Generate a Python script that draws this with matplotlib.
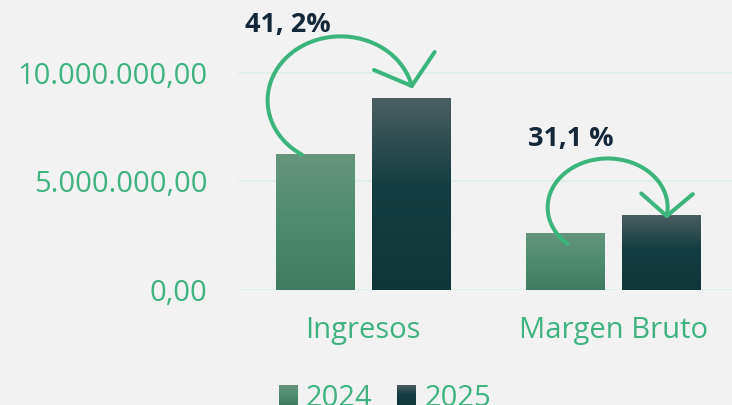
import matplotlib
matplotlib.use('Agg')
import numpy as np
import matplotlib.pyplot as plt
from matplotlib.colors import LinearSegmentedColormap
from matplotlib.patches import Patch
from matplotlib.lines import Line2D
from matplotlib.transforms import IdentityTransform, Bbox
from matplotlib.image import BboxImage

# ---- data ----
categories = ['Ingresos', 'Margen Bruto']
series_names = ['2024', '2025']
values_2024 = [6.23e6, 2.60e6]
values_2025 = [8.80e6, 3.41e6]
growth_labels = ['41, 2%', '31,1 %']
yticks = [0, 5e6, 10e6]
ytick_labels = ['0,00', '5.000.000,00', '10.000.000,00']

# ---- style ----
BG = '#f2f2f2'
GREEN_TXT = '#3fb27f'
ARROW = '#3cb57c'
DARK_TXT = '#15283a'
plt.rcParams['font.family'] = ['Open Sans', 'DejaVu Sans']

cmap24 = LinearSegmentedColormap.from_list('c24', ['#3f7b60', '#4d8c6e', '#66957e'])
cmap25 = LinearSegmentedColormap.from_list('c25', [(0, '#11363a'), (0.55, '#163d41'), (1, '#4b5e61')])

W, H = 732, 405
fig = plt.figure(figsize=(W / 100, H / 100), dpi=100, facecolor=BG)
ax = fig.add_axes([238 / W, (H - 290) / H, 501 / W, 290 / H])
ax.set_facecolor(BG)

x = np.arange(len(categories))
bw = 0.315
off = 0.1916
bars24 = ax.bar(x - off, values_2024, bw, color='none', linewidth=0, zorder=2)
bars25 = ax.bar(x + off, values_2025, bw, color='none', linewidth=0, zorder=2)

grad = np.linspace(0, 1, 256).reshape(-1, 1)
for bars, cm in ((bars24, cmap24), (bars25, cmap25)):
    for b in bars:
        x0 = b.get_x()
        ax.imshow(grad, extent=[x0, x0 + b.get_width(), 0, b.get_height()],
                  origin='lower', aspect='auto', cmap=cm, zorder=2, interpolation='bilinear')

ax.set_xlim(-0.5, 1.5)
ax.set_ylim(0, 13.36e6)
ax.set_yticks(yticks)
ax.set_yticklabels(ytick_labels)
ax.set_xticks(x)
ax.set_xticklabels(categories)
ax.yaxis.grid(True, color='#ddf0e7', linewidth=1.3)
ax.set_axisbelow(True)
for s in ax.spines.values():
    s.set_visible(False)
ax.tick_params(axis='both', length=0, labelsize=21, labelcolor=GREEN_TXT)
ax.tick_params(axis='y', pad=22)
ax.tick_params(axis='x', pad=19)

# ---- curved growth arrows ----
def draw_arrow(bar, dx, dy, a, b, th1, th2, arm_angles, arm_len, label, tdx, tdy):
    tx, ty = ax.transData.transform((bar.get_x() + bar.get_width() / 2, bar.get_height()))
    tx += dx
    ty += dy
    cx = tx - a * np.cos(np.radians(th2))
    cy = ty - b * np.sin(np.radians(th2))
    th = np.radians(np.linspace(th1, th2, 300))
    xs = cx + a * np.cos(th)
    ys = cy + b * np.sin(th)
    kw = dict(color=ARROW, linewidth=2.9, solid_capstyle='round', solid_joinstyle='round',
              transform=IdentityTransform(), zorder=5)
    fig.add_artist(Line2D(xs, ys, **kw))
    for ang in arm_angles:
        r = np.radians(ang)
        fig.add_artist(Line2D([tx, tx + arm_len * np.cos(r)], [ty, ty + arm_len * np.sin(r)], **kw))
    fig.text(cx + tdx, cy + tdy, label, transform=IdentityTransform(), ha='left', va='center',
             fontsize=19.5, fontweight='bold', color=DARK_TXT)

draw_arrow(bars25[0], 0.5, 13, 73, 64, 238, 13, (157, 56), 41, growth_labels[0], -96, 75.4)
draw_arrow(bars25[1], 5, 0, 60, 49, 228, -10, (138.5, 40), 34, growth_labels[1], -80, 68.5)

# ---- legend ----
handles = [Patch(facecolor='#558d71', edgecolor='none'), Patch(facecolor='#1d4245', edgecolor='none')]
leg = fig.legend(handles, series_names, loc='center', bbox_to_anchor=(385 / W, 1 - 398 / H), ncol=2,
                 frameon=False, fontsize=21, labelcolor=GREEN_TXT, handlelength=0.65, handleheight=0.65,
                 handletextpad=0.27, columnspacing=0.86, borderaxespad=0, borderpad=0)

# gradient fill for legend swatches
fig.canvas.draw()
for patch, cm in zip(leg.get_patches(), (cmap24, cmap25)):
    bb = patch.get_window_extent(fig.canvas.get_renderer())
    img = BboxImage(Bbox.from_extents(bb.x0, bb.y0, bb.x1, bb.y1), cmap=cm,
                    interpolation='bilinear', origin='lower')
    img.set_data(grad)
    img.set_zorder(10)
    fig.add_artist(img)

fig.savefig('out.png', dpi=100, facecolor=BG)
